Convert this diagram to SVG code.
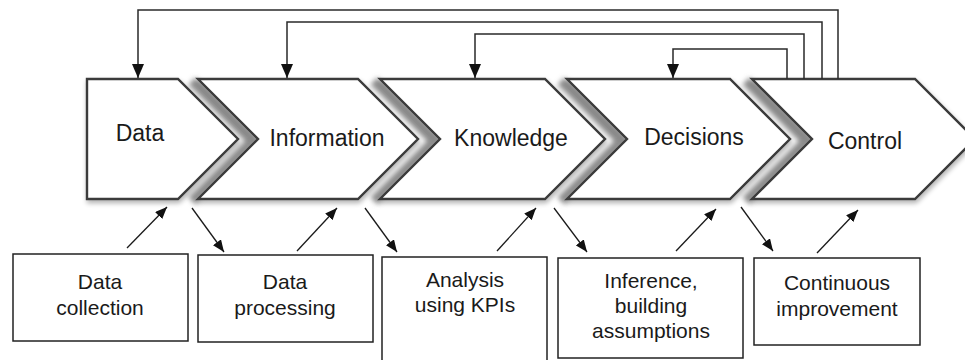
<svg xmlns="http://www.w3.org/2000/svg" width="965" height="360" viewBox="0 0 965 360">
<defs>
  <style>
    .chev{fill:#fff;stroke:#3a3a3a;stroke-width:2.4;stroke-linejoin:miter;filter:url(#soft)}
    .notch{fill:none;stroke:#8c8c8c;stroke-width:10;stroke-linejoin:miter;filter:url(#blur)}
    .ct{font-family:"Liberation Sans",Arial,sans-serif;font-size:23px;fill:#1a1a1a;text-anchor:middle}
    .bt{font-family:"Liberation Sans",Arial,sans-serif;font-size:21px;fill:#1a1a1a;text-anchor:middle}
    .box{fill:#fff;stroke:#222;stroke-width:1.5}
    .fb{fill:none;stroke:#2a2a2a;stroke-width:1.5}
    .sa{fill:none;stroke:#1a1a1a;stroke-width:1.3}
  </style>
  <filter id="soft" x="-10%" y="-10%" width="120%" height="125%">
    <feGaussianBlur in="SourceAlpha" stdDeviation="2.5"/>
    <feOffset dx="1" dy="3" result="b"/>
    <feComponentTransfer><feFuncA type="linear" slope="0.3"/></feComponentTransfer>
    <feMerge><feMergeNode/><feMergeNode in="SourceGraphic"/></feMerge>
  </filter>
  <filter id="blur" x="-50%" y="-20%" width="200%" height="140%">
    <feGaussianBlur stdDeviation="2.5"/>
  </filter>
  <marker id="big" markerUnits="userSpaceOnUse" markerWidth="14" markerHeight="12" refX="14" refY="6" orient="auto">
    <path d="M0,0 L14,6 L0,12 z" fill="#111"/>
  </marker>
  <marker id="sm" markerUnits="userSpaceOnUse" markerWidth="12" markerHeight="10" refX="12" refY="5" orient="auto">
    <path d="M0,0 L12,5 L0,10 z" fill="#111"/>
  </marker>
</defs>

<g id="notch-shadows">
  <polyline class="notch" points="192,81 252,141 192,201"/>
  <polyline class="notch" points="374,81 434,141 374,201"/>
  <polyline class="notch" points="561,81 621,141 561,201"/>
  <polyline class="notch" points="746,81 806,141 746,201"/>
</g>

<g id="node-data">
  <polygon class="chev" points="87,79 178,79 238,139 178,199 87,199"/>
  <text class="ct" x="140" y="141">Data</text>
</g>
<g id="node-information">
  <polygon class="chev" points="198,79 358,79 418,139 358,199 198,199 258,139"/>
  <text class="ct" x="327" y="146">Information</text>
</g>
<g id="node-knowledge">
  <polygon class="chev" points="380,79 545,79 605,139 545,199 380,199 440,139"/>
  <text class="ct" x="511" y="146">Knowledge</text>
</g>
<g id="node-decisions">
  <polygon class="chev" points="567,79 730,79 790,139 730,199 567,199 627,139"/>
  <text class="ct" x="694" y="145">Decisions</text>
</g>
<g id="node-control">
  <polygon class="chev" points="752,79 915,79 975,139 915,199 752,199 812,139"/>
  <text class="ct" x="865" y="149">Control</text>
</g>

<g id="box-collection">
  <rect class="box" x="13" y="254" width="175" height="87"/>
  <text class="bt" x="100" y="289">Data</text>
  <text class="bt" x="100" y="315">collection</text>
</g>
<g id="box-processing">
  <rect class="box" x="198" y="255" width="175" height="87"/>
  <text class="bt" x="285" y="289">Data</text>
  <text class="bt" x="285" y="315">processing</text>
</g>
<g id="box-analysis">
  <rect class="box" x="382" y="257" width="165" height="115"/>
  <text class="bt" x="465" y="287">Analysis</text>
  <text class="bt" x="465" y="312">using KPIs</text>
</g>
<g id="box-inference">
  <rect class="box" x="558" y="258" width="185" height="100"/>
  <text class="bt" x="651" y="288">Inference,</text>
  <text class="bt" x="651" y="313">building</text>
  <text class="bt" x="651" y="338">assumptions</text>
</g>
<g id="box-improvement">
  <rect class="box" x="754" y="258" width="166" height="87"/>
  <text class="bt" x="837" y="290">Continuous</text>
  <text class="bt" x="837" y="316">improvement</text>
</g>

<g id="connectors">
  <path class="fb" d="M838,79 V10 H138 V78" marker-end="url(#big)"/>
  <path class="fb" d="M822,79 V22 H287 V78" marker-end="url(#big)"/>
  <path class="fb" d="M804,79 V34 H475 V78" marker-end="url(#big)"/>
  <path class="fb" d="M787,79 V49 H673 V78" marker-end="url(#big)"/>

  <line class="sa" x1="127" y1="248" x2="167" y2="207" marker-end="url(#sm)"/>
  <line class="sa" x1="192" y1="208" x2="224" y2="252" marker-end="url(#sm)"/>
  <line class="sa" x1="297" y1="251" x2="337" y2="208" marker-end="url(#sm)"/>
  <line class="sa" x1="365" y1="208" x2="397" y2="252" marker-end="url(#sm)"/>
  <line class="sa" x1="497" y1="251" x2="536" y2="208" marker-end="url(#sm)"/>
  <line class="sa" x1="554" y1="208" x2="587" y2="252" marker-end="url(#sm)"/>
  <line class="sa" x1="676" y1="251" x2="716" y2="209" marker-end="url(#sm)"/>
  <line class="sa" x1="741" y1="207" x2="773" y2="251" marker-end="url(#sm)"/>
  <line class="sa" x1="817" y1="253" x2="858" y2="210" marker-end="url(#sm)"/>
</g>
</svg>
